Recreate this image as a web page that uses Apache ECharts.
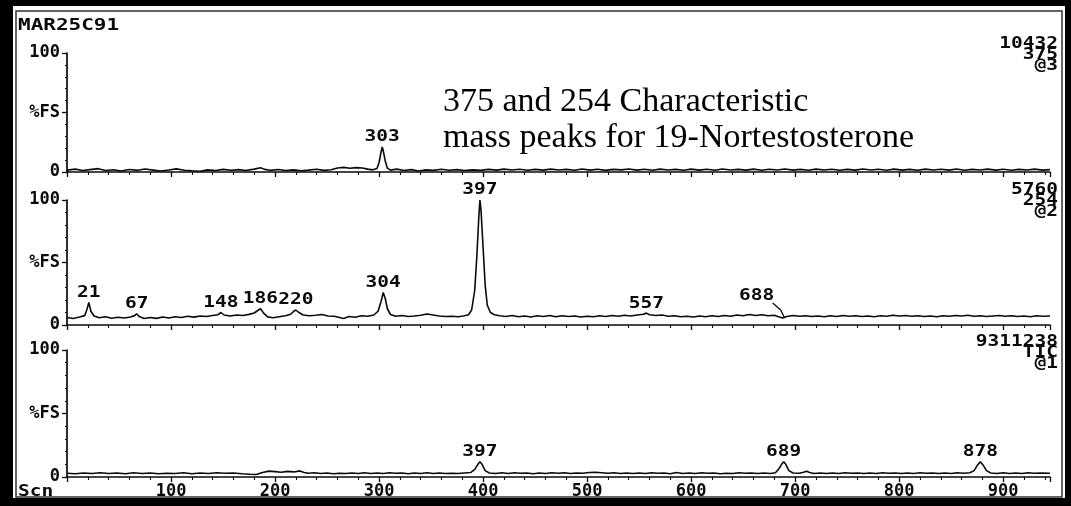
<!DOCTYPE html>
<html>
<head>
<meta charset="utf-8">
<script src="https://cdn.jsdelivr.net/npm/echarts@6/dist/echarts.min.js"></script>
<style>
html,body{margin:0;padding:0;background:#fff;}
#chart{width:1071px;height:506px;}
</style>
</head>
<body>
<div id="chart"></div>
<script>
// ---------- DATA ----------
const titleText = 'MAR25C91';
const noteLines = ['375 and 254 Characteristic', 'mass peaks for 19-Nortestosterone'];
const scanLabel = 'Scn';
const yLabels = ['0', '%FS', '100'];          // at 0, 50, 100
const xTickValues = [100, 200, 300, 400, 500, 600, 700, 800, 900];
const panelTags = [
  ['10432', '375', '@3'],
  ['5760', '254', '@2'],
  ['9311238', 'TIC', '@1']
];

// ion 375 trace [scan, %FS]
const ion375 = [
[0,1.6],[8,2.4],[15,1.2],[22,2.0],[30,2.8],[37,1.3],[45,1.9],[52,0.9],[60,2.1],[68,1.4],[75,2.5],[83,1.6],[90,0.8],[98,1.7],
[105,2.6],[113,1.5],[120,1.0],[128,0.6],[135,1.8],[143,1.2],[150,2.2],[158,1.5],[165,2.0],[172,1.3],[180,2.4],[186,3.6],[190,2.2],
[195,1.4],[203,2.1],[210,1.2],[218,1.8],[225,1.0],[232,1.6],[240,2.3],[247,1.4],[254,1.9],[260,3.4],[266,3.9],[272,3.2],[278,3.7],
[284,3.3],[289,2.4],[294,1.8],[298,3.0],[300,8],[302,17],[303,21],[304,18],[306,9],[308,3.2],[311,1.6],[317,2.4],[324,1.3],
[331,2.0],[338,0.9],[345,1.8],[352,1.4],[360,2.3],[367,1.5],[375,2.0],[382,1.2],[390,1.8],[398,1.4],[405,2.2],[413,1.6],[420,2.4],
[428,1.7],[435,2.3],[443,1.5],[450,2.2],[458,1.6],[465,2.4],[473,1.7],[480,2.2],[488,1.5],[495,2.5],[503,1.6],[510,2.3],[518,1.4],
[525,2.2],[533,1.8],[540,2.5],[548,1.6],[555,2.3],[563,1.5],[570,2.4],[578,1.7],[585,2.2],[593,1.5],[600,2.4],[608,1.6],[615,2.3],
[623,1.5],[630,2.5],[638,1.7],[645,2.2],[653,1.6],[660,2.4],[668,1.5],[675,2.3],[683,1.7],[690,2.5],[698,1.6],[705,2.2],[713,1.5],
[720,2.4],[728,1.7],[735,2.3],[743,1.5],[750,2.2],[758,1.6],[765,2.5],[773,1.7],[780,2.3],[788,1.5],[795,2.4],[803,1.6],[810,2.2],
[818,1.5],[825,2.4],[833,1.7],[840,2.3],[848,1.6],[855,2.5],[863,1.5],[870,2.2],[878,1.7],[885,2.4],[893,1.6],[900,2.3],[908,1.5],
[915,2.2],[923,1.7],[930,2.4],[938,1.6],[945,2.0]
];

// ion 254 trace [scan, %FS]
const ion254 = [
[0,6.0],[6,5.2],[12,6.4],[17,7.5],[19,12],[21,18],[23,11],[26,7.2],[31,5.8],[37,6.6],[43,5.4],[49,6.2],[55,5.6],[61,6.4],[65,7.5],
[67,9],[69,7.0],[74,5.2],[80,6.0],[86,5.3],[92,6.4],[98,5.6],[104,6.6],[110,6.0],[116,7.0],[122,6.3],[128,7.2],[134,6.8],[140,7.6],
[145,8.2],[148,10],[151,8.0],[157,7.2],[163,8.0],[169,7.6],[175,8.5],[180,9.6],[184,12],[186,13],[189,9.5],[193,6.5],[198,5.8],
[204,6.6],[210,7.4],[215,8.6],[218,11],[220,12],[223,10],[227,8.0],[233,7.4],[239,7.8],[245,8.4],[251,7.2],[257,7.0],[262,6.0],
[266,5.2],[271,6.8],[277,6.2],[283,7.4],[289,7.0],[295,8.0],[299,11],[302,19],[304,26],[306,21],[308,13],[311,8.4],[316,7.0],
[322,7.6],[328,6.8],[334,7.2],[340,7.8],[346,8.8],[352,8.0],[358,7.2],[364,6.8],[370,7.0],[376,6.6],[381,7.2],[386,8.2],[389,12],
[392,28],[394,55],[396,88],[397,100],[398,92],[400,62],[402,32],[404,16],[407,10],[411,8.2],[416,7.4],[422,6.8],[428,7.6],[434,6.6],
[440,7.2],[446,6.4],[452,7.4],[458,6.8],[464,7.6],[470,6.6],[476,7.4],[482,6.8],[488,7.2],[494,6.4],[500,7.0],[506,6.6],[512,7.4],
[518,6.8],[524,7.6],[530,7.0],[536,7.8],[542,7.2],[548,8.0],[554,8.6],[557,9.5],[560,8.2],[566,7.6],[572,8.0],[578,7.0],[584,7.4],
[590,6.6],[596,7.0],[602,6.4],[608,7.2],[614,6.6],[620,7.4],[626,6.8],[632,7.6],[638,7.0],[644,8.0],[650,7.4],[656,8.4],[662,7.6],
[668,8.2],[674,7.4],[680,7.8],[684,6.6],[688,5.6],[692,6.8],[698,7.6],[704,7.0],[710,7.4],[716,6.8],[722,7.2],[728,6.6],[734,7.4],
[740,6.8],[746,7.6],[752,7.0],[758,7.4],[764,6.8],[770,7.2],[776,6.6],[782,7.4],[788,7.0],[794,7.8],[800,7.2],[806,7.6],[812,7.0],
[818,7.4],[824,6.8],[830,7.2],[836,6.6],[842,7.4],[848,7.0],[854,7.6],[860,7.2],[866,7.8],[872,7.0],[878,7.4],[884,6.8],[890,7.2],
[896,7.6],[902,7.0],[908,7.4],[914,6.8],[920,7.2],[926,6.6],[932,7.4],[938,7.0],[945,7.2]
];

// TIC trace [scan, %FS]
const ionTIC = [
[0,3.0],[8,2.6],[16,3.2],[24,2.8],[32,3.4],[40,2.7],[48,3.1],[56,2.6],[64,3.3],[72,2.8],[80,3.2],[88,2.5],[96,3.0],[104,2.7],
[112,3.3],[120,2.6],[128,3.1],[136,2.8],[144,3.4],[152,2.9],[160,3.2],[168,2.6],[176,2.2],[182,2.0],[188,3.6],[194,4.6],[200,4.2],
[206,3.8],[212,4.4],[218,4.0],[224,4.8],[228,3.6],[232,3.0],[238,3.4],[244,2.8],[250,3.2],[256,2.6],[262,3.0],[268,2.7],[274,3.2],
[280,2.8],[286,3.3],[292,2.7],[298,3.1],[304,2.8],[310,3.4],[316,2.9],[322,3.2],[328,2.6],[334,3.1],[340,2.7],[346,3.3],[352,2.8],
[358,3.2],[364,2.7],[370,3.0],[376,2.8],[382,3.2],[388,3.5],[392,6],[395,10],[397,12],[399,10],[402,5],[406,3.2],[412,2.8],
[418,3.3],[424,2.7],[430,3.4],[436,2.9],[442,3.2],[448,2.6],[454,3.1],[460,2.8],[466,3.4],[472,3.0],[478,3.3],[484,2.7],[490,3.2],
[496,2.9],[502,3.5],[508,3.8],[514,3.4],[520,3.0],[526,3.3],[532,2.8],[538,3.2],[544,2.7],[550,3.1],[556,2.8],[562,3.4],[568,2.9],
[574,3.2],[580,2.6],[586,3.5],[592,2.8],[598,3.1],[604,2.7],[610,3.3],[616,2.9],[622,3.2],[628,2.6],[634,3.0],[640,2.8],[646,3.4],
[652,2.9],[658,3.2],[664,2.7],[670,3.1],[676,2.8],[681,3.4],[684,6],[687,10],[689,12],[691,10],[694,5],[698,3.2],[704,2.9],
[708,3.8],[711,4.6],[714,3.6],[718,2.8],[724,3.2],[730,2.7],[736,3.1],[742,2.8],[748,3.4],[754,3.0],[760,3.2],[766,2.7],[772,3.1],
[778,2.8],[784,3.4],[790,2.9],[796,3.2],[802,2.7],[808,3.1],[814,2.8],[820,3.3],[826,2.9],[832,3.2],[838,2.7],[844,3.1],[850,2.8],
[856,3.4],[862,3.0],[868,3.4],[872,5],[875,9],[878,12],[881,9],[884,5],[888,3.2],[894,2.8],[900,3.3],[906,2.7],[912,3.1],[918,2.8],
[924,3.4],[930,2.9],[936,3.2],[945,3.0]
];

// peak labels [scan, %FS, text]
const peaks375 = [[303, 21, '303']];
const peaks254 = [[21, 18, '21'], [67, 9, '67'], [148, 10, '148'], [186, 13, '186'], [220, 12, '220'],
                  [304, 26, '304'], [397, 100, '397'], [557, 9.5, '557'], [688, 5.6, '688']];
const peaksTIC = [[397, 12, '397'], [689, 12, '689'], [878, 12, '878']];
const leaderLabels = ['688'];

// ---------- CHART ----------
const MONO = '"DejaVu Sans Mono", "Liberation Mono", monospace';
const INK = '#0a0a0a';
const grids = [
  {left: 67, right: 21, top: 53, height: 119},
  {left: 67, right: 21, top: 200, height: 125},
  {left: 67, right: 21, top: 350, height: 127}
];
const traces = [ion375, ion254, ionTIC];
const peakSets = [peaks375, peaks254, peaksTIC];

const xAxes = grids.map((g, i) => ({
  type: 'value', gridIndex: i, min: 0, max: 945, interval: 100,
  axisLine: {show: true, lineStyle: {color: INK, width: 1.5}},
  axisTick: {show: true, length: 5, lineStyle: {color: INK, width: 1.3}},
  minorTick: {show: true, splitNumber: 5, length: 3, lineStyle: {color: INK, width: 1.1}},
  splitLine: {show: false},
  axisLabel: {
    show: i === 2, margin: 6, color: INK, fontFamily: MONO, fontWeight: 'bold', fontSize: 17,
    formatter: v => xTickValues.indexOf(v) >= 0 ? String(v) : ''
  }
}));

const yAxes = grids.map((g, i) => ({
  type: 'value', gridIndex: i, min: 0, max: 100, interval: 50,
  axisLine: {show: true, lineStyle: {color: INK, width: 1.7}},
  axisTick: {show: true, length: 5, lineStyle: {color: INK, width: 1.3}},
  minorTick: {show: true, splitNumber: 5, length: 2, lineStyle: {color: INK, width: 1.1}},
  splitLine: {show: false},
  axisLabel: {
    margin: 7, color: INK, fontFamily: MONO, fontWeight: 'bold', fontSize: 17,
    formatter: v => v === 0 ? yLabels[0] : (v === 50 ? yLabels[1] : (v === 100 ? yLabels[2] : ''))
  }
}));

const series = [];
traces.forEach((d, i) => {
  series.push({
    type: 'line', xAxisIndex: i, yAxisIndex: i, data: d, showSymbol: false, silent: true,
    lineStyle: {color: INK, width: 1.6}, z: 3, animation: false
  });
});
peakSets.forEach((pk, i) => {
  series.push({
    type: 'custom', xAxisIndex: i, yAxisIndex: i, silent: true, z: 5, animation: false,
    data: pk.map(p => [p[0], p[1]]),
    renderItem: (params, api) => {
      const pt = api.coord([api.value(0), api.value(1)]);
      const txt = pk[params.dataIndex][2];
      const lead = leaderLabels.indexOf(txt) >= 0 && i === 1;
      const tx = lead ? pt[0] - 26 : pt[0];
      const ty = lead ? pt[1] - 14 : pt[1] - 2;
      const children = [{
        type: 'text', x: tx, y: ty, scaleX: 1.3,
        style: {text: txt, fill: INK, font: 'bold 15px ' + MONO, align: 'center', verticalAlign: 'bottom'}
      }];
      if (lead) {
        children.push({
          type: 'polyline',
          shape: {points: [[tx + 16, ty - 1], [pt[0] - 2, pt[1] - 8], [pt[0] + 2, pt[1]]]},
          style: {stroke: INK, lineWidth: 1.3, fill: null}
        });
      }
      return {type: 'group', children: children};
    }
  });
});

const graphic = [];
// frame
graphic.push({type: 'rect', shape: {x: 0, y: 0, width: 13, height: 506}, style: {fill: '#000'}, z: 100});
graphic.push({type: 'rect', shape: {x: 0, y: 0, width: 1071, height: 6}, style: {fill: '#000'}, z: 100});
graphic.push({type: 'rect', shape: {x: 1065, y: 0, width: 6, height: 506}, style: {fill: '#000'}, z: 100});
graphic.push({type: 'rect', shape: {x: 0, y: 498, width: 1071, height: 8}, style: {fill: '#000'}, z: 100});
graphic.push({type: 'rect', shape: {x: 16, y: 11, width: 1046, height: 486}, style: {fill: null, stroke: '#333', lineWidth: 1.5}, z: 99});
// header
graphic.push({type: 'text', x: 18, y: 19, scaleX: 1.4, z: 50,
  style: {text: titleText, fill: INK, font: 'bold 15px ' + MONO, align: 'left', verticalAlign: 'top'}});
graphic.push({type: 'text', x: 18, y: 485, scaleX: 1.3, z: 50,
  style: {text: scanLabel, fill: INK, font: 'bold 15px ' + MONO, align: 'left', verticalAlign: 'top'}});
// right tags
const tagTops = [37, 183, 335];
panelTags.forEach((tags, i) => {
  tags.forEach((t, k) => {
    graphic.push({type: 'text', x: 1058, y: tagTops[i] + k * 11, scaleX: 1.3, z: 50,
      style: {text: t, fill: INK, font: 'bold 15px ' + MONO, align: 'right', verticalAlign: 'top'}});
  });
});
// annotation
noteLines.forEach((t, k) => {
  graphic.push({type: 'text', x: 443, y: 85 + k * 36, z: 50,
    style: {text: t, fill: '#000', font: '34px "Liberation Serif", "Times New Roman", serif', align: 'left', verticalAlign: 'top'}});
});

const chart = echarts.init(document.getElementById('chart'), null, {renderer: 'canvas'});
chart.setOption({
  backgroundColor: '#fff',
  animation: false,
  grid: grids,
  xAxis: xAxes,
  yAxis: yAxes,
  series: series,
  graphic: graphic
});
</script>
</body>
</html>
